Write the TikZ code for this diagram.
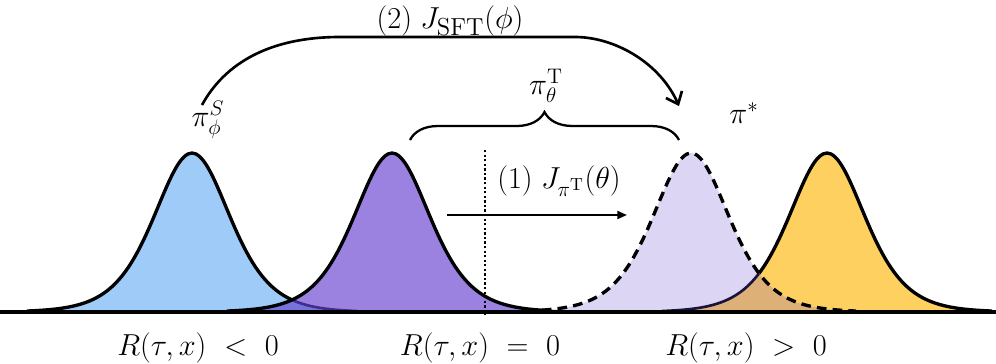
\documentclass[tikz,border=0pt]{standalone}
\usepackage{amsmath}
\usetikzlibrary{positioning,arrows.meta,decorations.pathreplacing}

\definecolor{srcblue}{HTML}{9FCBF8}
\definecolor{tgtpurple}{HTML}{9B81E0}
\definecolor{optlav}{HTML}{DCD6F4}
\definecolor{optorange}{HTML}{FDD060}
\definecolor{mixblue}{HTML}{7673DC}
\definecolor{mixtan}{HTML}{DDB077}
\definecolor{tailpurple}{HTML}{3F2E8C}
\definecolor{tailnavy}{HTML}{1C1240}

% one bell centred at #1 (sech^2 profile)
\newcommand{\bell}[1]{plot[domain=-165:165,samples=91,smooth] ({#1+\x},{51+159/(cosh(\x/51)^2)})}
\newcommand{\subtxt}[1]{\mbox{\fontsize{14}{16}\selectfont #1}}

\begin{document}
\begin{tikzpicture}[x=0.02cm,y=0.02cm,font=\fontsize{17.28}{21}\selectfont,
    bellline/.style={line width=1.9pt},
    tailline/.style={line width=1.5pt}]
  \useasboundingbox (0,0) rectangle (996,363);
  % source and target policies
  \fill[srcblue] \bell{192} -- cycle;
  \draw[bellline] \bell{192};
  \fill[tgtpurple] \bell{392} -- cycle;
  \begin{scope}
    \clip \bell{192} -- cycle;
    \fill[mixblue] \bell{392} -- cycle;
  \end{scope}
  \begin{scope}
    \clip \bell{392} -- cycle;
    \draw[tailline,tailpurple] \bell{192};
  \end{scope}
  \draw[bellline] \bell{392};
  % optimal policy and shifted target
  \fill[optorange] \bell{827} -- cycle;
  \draw[bellline] \bell{827};
  \fill[optlav] \bell{691} -- cycle;
  \begin{scope}
    \clip \bell{827} -- cycle;
    \fill[mixtan] \bell{691} -- cycle;
  \end{scope}
  \begin{scope}
    \clip \bell{691} -- cycle;
    \draw[tailline,tailnavy] \bell{827};
  \end{scope}
  \draw[bellline,dash pattern=on 5.5pt off 3.5pt] \bell{691};
  \draw[line width=2.2pt] (0,51) -- (996,51);

  % zero reward line
  \coordinate (zerotop) at (485,213);
  \coordinate (zerobot) at (485,48);
  \draw[line width=1.6pt,dash pattern=on 1.3pt off 1.3pt] (zerotop) -- (zerobot);

  % labels
  \node (srclbl) at (208,243) {$\pi_{\phi}^{S}$};
  \node (tgtlbl) at (546,277) {$\pi_{\theta}^{\mathrm{T}}$};
  \node (optlbl) at (744,250) {$\pi^{*}$};
  \node (sftlbl) at (450,342) {$(2)\;J_{\subtxt{SFT}}(\phi)$};
  \node (rllbl) at (559,182) {$(1)\;J_{\pi^{\mathrm{T}}}(\theta)$};
  \node[anchor=base] (neglbl) at (198,8) {$R(\tau,x)\ <\ 0$};
  \node[anchor=base] (zerolbl) at (480,8) {$R(\tau,x)\ =\ 0$};
  \node[anchor=base] (poslbl) at (746,8) {$R(\tau,x)\ >\ 0$};

  % brace over the target policy
  \coordinate (bracel) at (410,223);
  \coordinate (bracer) at (679,223);
  \draw[decorate,decoration={brace,amplitude=0.56cm},line width=1.3pt] (bracel) -- (bracer);

  % (1) shift arrow
  \coordinate (shiftfrom) at (447,148);
  \coordinate (shiftto) at (627,148);
  \draw[-{Triangle[length=5.5pt,width=4.5pt]},line width=1.2pt] (shiftfrom) -- (shiftto);

  % (2) SFT arrow
  \coordinate (arcfrom) at (202,258);
  \coordinate (arcto) at (679,257);
  \draw[-{Straight Barb[length=6pt,width=10pt]},line width=1.5pt] (arcfrom)
    .. controls (225,300) and (270,326) .. (340,326) -- (575,326)
    .. controls (615,326) and (660,300) .. (arcto);
\end{tikzpicture}
\end{document}
